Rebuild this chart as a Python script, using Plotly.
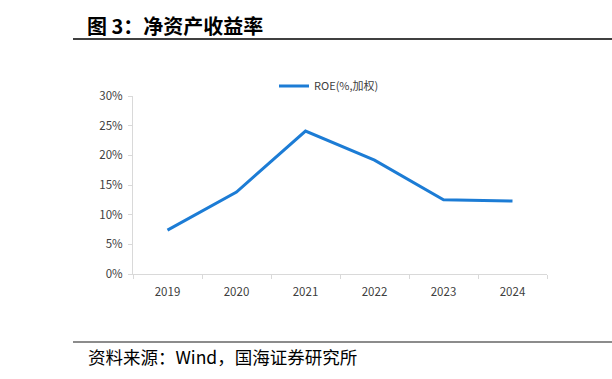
import plotly.graph_objects as go

years = ["2019", "2020", "2021", "2022", "2023", "2024"]
roe = [7.4, 13.8, 24.1, 19.2, 12.5, 12.3]
series_name = "ROE(%,加权)"
y_ticks = [0, 5, 10, 15, 20, 25, 30]
y_tick_labels = [f"{v}%" for v in y_ticks]

W, H = 612, 379
fig = go.Figure()
fig.add_trace(go.Scatter(
    x=years, y=roe, mode="lines", name=series_name,
    line=dict(color="#1c7cd5", width=3),
))

x0, x1 = 133 / W, 547 / W
y0, y1 = 1 - 274 / H, 1 - 96 / H

fig.update_layout(
    template="none",
    width=W, height=H,
    margin=dict(l=0, r=0, t=0, b=0, pad=0, autoexpand=False),
    paper_bgcolor="white", plot_bgcolor="white",
    font=dict(family="Noto Sans CJK SC, Open Sans, sans-serif", color="#404040", size=11.5),
    showlegend=True,
    hovermode=False,
    legend=dict(x=274 / W, y=1 - 86 / H, xanchor="left", yanchor="middle",
                orientation="h", font=dict(size=11, color="#404040"),
                itemwidth=30, bgcolor="rgba(0,0,0,0)", borderwidth=0),
    xaxis=dict(domain=[x0, x1], type="category", range=[-0.5, 5.5], automargin=False,
               showgrid=False, zeroline=False,
               showline=True, linecolor="#d9d9d9", linewidth=1,
               ticks="outside", tickson="boundaries", ticklen=4, tickcolor="#d9d9d9",
               ticklabelstandoff=7,
               tickfont=dict(size=11.5, color="#404040"), fixedrange=True),
    yaxis=dict(domain=[y0, y1], range=[0, 30], tickvals=y_ticks, ticktext=y_tick_labels,
               automargin=False,
               showgrid=False, zeroline=False, showline=True, linecolor="#d9d9d9", linewidth=1,
               ticks="outside", ticklen=4, tickcolor="#d9d9d9",
               ticklabelstandoff=3,
               tickfont=dict(size=11.5, color="#404040"), fixedrange=True),
)

# header
fig.add_annotation(xref="paper", yref="paper", x=85 / W, y=1 - 25 / H,
                   text="<b>图 3：净资产收益率</b>", showarrow=False,
                   xanchor="left", yanchor="middle",
                   font=dict(size=20, color="#000000", family="Noto Sans CJK SC"))
fig.add_shape(type="line", xref="paper", yref="paper", x0=73 / W, x1=1, y0=1 - 39 / H, y1=1 - 39 / H,
              line=dict(color="#000000", width=1.5))
# footer
fig.add_shape(type="line", xref="paper", yref="paper", x0=73 / W, x1=1, y0=1 - 342 / H, y1=1 - 342 / H,
              line=dict(color="#666666", width=1.5))
fig.add_annotation(xref="paper", yref="paper", x=86 / W, y=1 - 356 / H,
                   text="资料来源：Wind，国海证券研究所", showarrow=False,
                   xanchor="left", yanchor="middle",
                   font=dict(size=17.5, color="#000000", family="Noto Sans CJK SC"))

fig.write_html("out.html", config={"displayModeBar": False, "staticPlot": True},
               post_script="document.body.style.margin='0';")
